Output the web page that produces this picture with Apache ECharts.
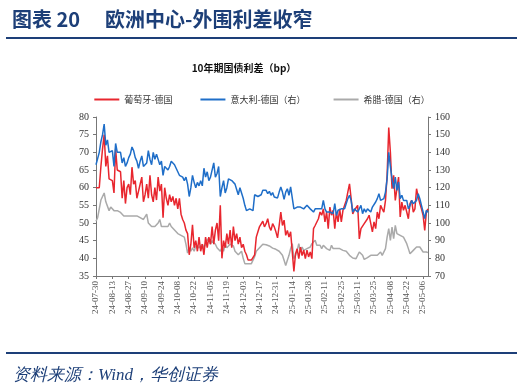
<!DOCTYPE html>
<html>
<head>
<meta charset="utf-8">
<script src="https://cdn.jsdelivr.net/npm/echarts@6/dist/echarts.min.js"></script>
<style>
html,body{margin:0;padding:0;background:#fff;}
#chart{width:524px;height:387px;}
</style>
</head>
<body>
<div id="chart"></div>
<script>
// Weekday categories from 2024-07-30, 204 trading days
const startDate = '2024-07-30';
const nDays = 204;
const tickLabels = ['24-07-30','24-08-13','24-08-27','24-09-10','24-09-24','24-10-08','24-10-22','24-11-05','24-11-19','24-12-03','24-12-17','24-12-31','25-01-14','25-01-28','25-02-11','25-02-25','25-03-11','25-03-25','25-04-08','25-04-22','25-05-06'];

// 葡萄牙-德国 (left axis, bp)
const portugal = [
60,60.5,60,66,71,75,66,69,62.5,62.5,
62,58.5,71,65,65,64.5,57,62,55.5,60,
61,58,65.8,61,62,57,57.5,61,63,56,
58,61,57,63.5,58,56,60,56.5,63,59,
61,51.5,60,57,55,58,56,57.5,55,57,
54,57,52.5,51,50,48,47,41,44,49.5,
43,45,42,46,42,44,41,46,43,46,
44,49,44,48,50,45,55,40,45,43,
47,44,48,43,49,45,47,44,46,43,
44,42,41,39.5,39.5,39.5,39.5,41,46,47.5,
49,49.5,50.5,48.9,49.8,51.2,48.9,47.9,49.8,48.9,
47.5,45.8,49.3,53.1,49.3,50.8,46.5,47.9,46,47.5,
47,36.3,41.3,42.7,39.9,43.2,40.8,42.3,39.9,42.3,
40.4,41.8,39.9,48.4,49.3,48.9,51.2,53.1,52.2,54,
50.3,53.1,48.4,54.5,52.2,53.6,48.4,53.1,50.3,54,
50.3,53.6,53.1,56.4,58.8,61.1,56.9,52.6,53.6,54,
55,45.5,48.4,48.9,49.8,49.3,51.2,52.2,51.7,47.5,
50.3,48.4,53.1,51.2,55,54,53.1,56.4,63.5,77,
70,59.7,63.5,56.4,59.7,63,51.7,55.9,53.6,55,
53.1,51.2,55.5,56.4,53.1,54,59.7,57.4,55.5,54,
52.2,47.9,53.1,54
];

// 意大利-德国 (right axis, bp)
const italy = [
133,132,140,146,150,156,144,147,140,140,
141,132,145,140,141,140,134,137,132,134,
137,139,143,141,137,135,131,135,138,132,
133,134,141,136,133,140,136,139,136,133,
135,127,132,131,130,132,135,134,133,131,
132,127,128,126,124,126,122,115,120,127,
123,120,123,121,124,121,131,126,129,124,
126,125,134,126,128,132,115,120,124,117,
120,125,126,124,125,122,119,116,120,117,
114,110,107,108,108,108,107,116,115,115,
115,116,118.5,117.5,118.5,116.6,117.9,115.7,117.2,114.7,
113.8,114.2,117.5,120.4,117.5,113.4,117.5,119.4,115.7,120.4,
121.3,108,107.2,109,108,109,110,108,109,110,
110.4,108,109,106.2,108,109,108,107.2,108,112.8,
108,106.2,105.3,106.2,107.2,105.3,111,104.3,107.2,106.2,
108,107.2,108,111,113.8,115.7,112.8,106.2,108,109,
106.2,107.2,110,105.3,108,106.2,108,107.2,106.2,109,
109,111.9,113.8,116.6,112.8,111.9,113.8,117.5,125,140,
132,125,119.4,126,118.5,123.2,113.8,115.7,112.8,111.9,
112.8,108,110,112.8,110.9,111.9,112.8,116.6,113.8,110,
106.2,102.5,107.2,106
];

// 希腊-德国 (right axis, bp)
const greece = [
101,103,108,113,115,117,112,111,107,109,
109,107,107,107,106,106,107,104,104,104,
105,104,105,104,105,104,105,103,104,102,
103,105,100,99,98,97,98,99,100,102,
98,97,98,99,98,100,98,97,96,95,
94,94,93,94,92,88,83,86,84,86,
84,87,88,86,86,88,86,88,91,90,
88,90,89,88,86,85,84,86,84,88,
86,86,88,88,87,84,83,82,83,84,
80,77,78,77,76,77,78,81,84,85,
86,86,88,88.3,87.7,87.4,87,86.4,85.8,85.5,
85.1,84.5,84,83.6,81.7,78.9,76,78.9,81.7,85.5,
88.3,79.8,81.7,84.5,88.3,83.6,86.4,84.5,85.5,85.5,
85.8,86.4,88.3,89.2,90.2,87.4,86.4,87.4,85.5,87.4,
88.3,85.5,86.4,84.5,87.4,85.5,86.4,85.5,86.4,85.5,
85.1,84.5,84.5,84,83.6,81.7,81.3,80.2,79.2,79.8,
80.4,83.6,84,81.7,79.4,79.8,80.4,80.2,81.7,80.8,
81.7,82.6,81.7,82.6,83.6,81.7,80.8,85.5,92,96.8,
90.2,97.7,91.1,98.7,94,94.9,93,92,92,91.1,
88.3,85.5,82.6,83.6,84.5,85.5,86.4,87.4,86.4,85.5,
83.6,82.6,83.6,83.2
];

function buildDates(start, n) {
  const out = [];
  const d = new Date(start + 'T00:00:00Z');
  while (out.length < n) {
    const wd = d.getUTCDay();
    if (wd !== 0 && wd !== 6) {
      const yy = String(d.getUTCFullYear()).slice(2);
      const mm = String(d.getUTCMonth() + 1).padStart(2, '0');
      const dd = String(d.getUTCDate()).padStart(2, '0');
      out.push(yy + '-' + mm + '-' + dd);
    }
    d.setUTCDate(d.getUTCDate() + 1);
  }
  return out;
}
const categories = buildDates(startDate, nDays);

const chart = echarts.init(document.getElementById('chart'));
const navy = '#1d3f78';
const cjk = '"Noto Sans CJK SC", sans-serif';
const serif = '"Liberation Serif", "DejaVu Serif", serif';

chart.setOption({
  animation: false,
  backgroundColor: '#fff',
  title: [
    { text: '图表 20', left: 7, top: 4,
      textStyle: { color: navy, fontSize: 20, fontWeight: 'bold', fontFamily: cjk } },
    { text: '欧洲中心-外围利差收窄', left: 100, top: 4,
      textStyle: { color: navy, fontSize: 20, fontWeight: 'bold', fontFamily: cjk } },
    { text: '10年期国债利差（bp）', left: 239, top: 58, textAlign: 'center',
      textStyle: { color: '#111', fontSize: 10, fontWeight: 'bold', fontFamily: cjk } },
    { text: '资料来源：Wind，华创证券', left: 8, top: 362,
      textStyle: { color: navy, fontSize: 17, fontWeight: 'normal', fontStyle: 'italic', fontFamily: serif } }
  ],
  graphic: [
    { type: 'rect', shape: { x: 6, y: 37, width: 511, height: 2 }, style: { fill: navy } },
    { type: 'rect', shape: { x: 6, y: 352, width: 511, height: 2 }, style: { fill: navy } }
  ],
  legend: {
    top: 90, left: 'center',
    itemWidth: 25, itemHeight: 2, itemGap: 28,
    icon: 'rect',
    textStyle: { fontSize: 9, color: '#333', fontFamily: cjk },
    data: ['葡萄牙-德国', '意大利-德国（右）', '希腊-德国（右）']
  },
  grid: { left: 96, right: 96, top: 117, bottom: 111, containLabel: false },
  xAxis: {
    type: 'category', data: categories, boundaryGap: false,
    axisLine: { lineStyle: { color: '#777', width: 1 } },
    axisTick: { interval: 9, length: 3, lineStyle: { color: '#777' } },
    axisLabel: { interval: 9, rotate: 90, fontSize: 9, color: '#555', fontFamily: serif, margin: 5 },
    splitLine: { show: false }
  },
  yAxis: [
    { type: 'value', min: 35, max: 80, interval: 5, position: 'left',
      axisLine: { show: true, lineStyle: { color: '#777' } },
      axisTick: { show: true, length: 3, lineStyle: { color: '#777' } },
      axisLabel: { fontSize: 10, color: '#333', fontFamily: serif, margin: 7 },
      splitLine: { show: false } },
    { type: 'value', min: 70, max: 160, interval: 10, position: 'right',
      axisLine: { show: true, lineStyle: { color: '#777' } },
      axisTick: { show: true, length: 3, lineStyle: { color: '#777' } },
      axisLabel: { fontSize: 10, color: '#333', fontFamily: serif, margin: 7 },
      splitLine: { show: false } }
  ],
  series: [
    { name: '葡萄牙-德国', type: 'line', data: portugal, yAxisIndex: 0, showSymbol: false,
      lineStyle: { color: '#e8262e', width: 1.5 }, itemStyle: { color: '#e8262e' }, z: 3 },
    { name: '意大利-德国（右）', type: 'line', data: italy, yAxisIndex: 1, showSymbol: false,
      lineStyle: { color: '#1f6ec8', width: 1.5 }, itemStyle: { color: '#1f6ec8' }, z: 4 },
    { name: '希腊-德国（右）', type: 'line', data: greece, yAxisIndex: 1, showSymbol: false,
      lineStyle: { color: '#aaaaaa', width: 1.5 }, itemStyle: { color: '#aaaaaa' }, z: 2 }
  ]
});
</script>
</body>
</html>
